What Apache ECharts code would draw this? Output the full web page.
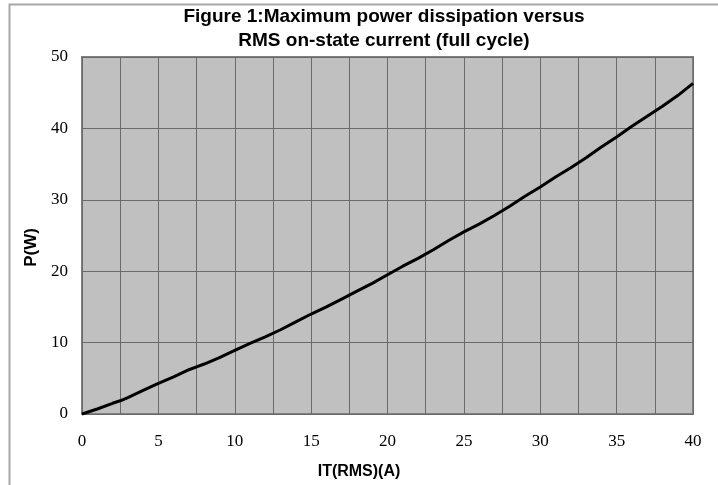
<!DOCTYPE html>
<html>
<head>
<meta charset="utf-8">
<script src="https://cdn.jsdelivr.net/npm/echarts@6/dist/echarts.min.js"></script>
<style>html,body{margin:0;padding:0;background:#fff}#c{width:718px;height:485px}</style>
</head>
<body>
<div id="c"></div>
<script>
const currentA = [0, 1, 2, 2.5, 3, 4, 5, 6, 7, 7.5, 8, 9, 10, 11, 12, 13, 14, 15, 16, 17, 18, 19, 20, 21, 22, 23, 24, 25, 26, 27, 28, 29, 30, 31, 32, 33, 34, 35, 36, 37, 38, 39, 40];
const powerW = [0, 0.7, 1.5, 1.85, 2.3, 3.3, 4.3, 5.2, 6.2, 6.6, 7.0, 7.9, 8.9, 9.9, 10.8, 11.8, 12.9, 14.0, 15.0, 16.1, 17.2, 18.3, 19.5, 20.7, 21.8, 23.0, 24.3, 25.5, 26.6, 27.8, 29.1, 30.5, 31.8, 33.2, 34.5, 35.9, 37.4, 38.8, 40.3, 41.7, 43.1, 44.6, 46.3];
const xTickLabels = [0, 5, 10, 15, 20, 25, 30, 35, 40];
const yTickLabels = [0, 10, 20, 30, 40, 50];
const titleText = 'Figure 1:Maximum power dissipation versus\nRMS on-state current (full cycle)';
const xName = 'IT(RMS)(A)';
const yName = 'P(W)';

const chart = echarts.init(document.getElementById('c'), null, {renderer: 'canvas'});
const serif = '"Liberation Serif", "DejaVu Serif", serif';
const sans = '"Liberation Sans", Arial, sans-serif';
chart.setOption({
  animation: false,
  backgroundColor: '#fff',
  graphic: [{
    type: 'rect', left: 7, top: 2, silent: true, z: -10,
    shape: {width: 730, height: 500},
    style: {fill: 'none', stroke: '#a8a8a8', lineWidth: 2}
  }],
  title: {
    text: titleText,
    left: 379, top: 0, textAlign: 'center',
    textStyle: {fontFamily: sans, fontWeight: 'bold', fontSize: 19, color: '#000', lineHeight: 24}
  },
  grid: {
    left: 82, right: 25, top: 57, bottom: 69,
    show: true, backgroundColor: '#c0c0c0', borderColor: '#808080', borderWidth: 2
  },
  xAxis: {
    type: 'value', min: 0, max: 40, interval: 2.5,
    name: xName, nameLocation: 'middle', nameGap: 50,
    nameTextStyle: {fontFamily: sans, fontWeight: 'bold', fontSize: 16, color: '#000', padding: [0, 57, 0, 0]},
    axisLine: {show: false}, axisTick: {show: false},
    axisLabel: {
      margin: 19, fontFamily: serif, fontSize: 17, color: '#000',
      formatter: v => xTickLabels.includes(v) ? String(v) : ''
    },
    splitLine: {show: true, lineStyle: {color: '#6a6a6a', width: 1}}
  },
  yAxis: {
    type: 'value', min: 0, max: 50, interval: 10,
    name: yName, nameLocation: 'middle', nameGap: 38, nameRotate: 90,
    nameTextStyle: {fontFamily: sans, fontWeight: 'bold', fontSize: 17, color: '#000', padding: [0, 24, 0, 0]},
    axisLine: {show: false}, axisTick: {show: false},
    axisLabel: {
      margin: 14, fontFamily: serif, fontSize: 17, color: '#000',
      formatter: v => yTickLabels.includes(v) ? String(v) : ''
    },
    splitLine: {show: true, lineStyle: {color: '#6a6a6a', width: 1}}
  },
  series: [{
    type: 'line',
    data: currentA.map((x, i) => [x, powerW[i]]),
    showSymbol: false, symbol: 'none', smooth: false,
    lineStyle: {color: '#000', width: 3},
    clip: false
  }]
});
</script>
</body>
</html>
